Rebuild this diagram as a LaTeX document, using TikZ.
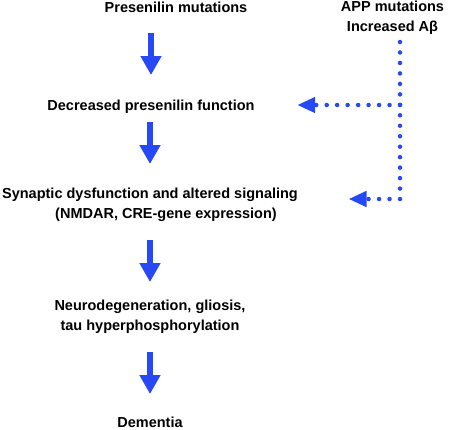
\documentclass[tikz,border=0pt]{standalone}
\usepackage{fontspec}
\setmainfont{Liberation Sans}
\usepackage{tikz}
\usetikzlibrary{arrows.meta}
\definecolor{arrowblue}{RGB}{38,72,245}

\begin{document}
\begin{tikzpicture}[x=1pt, y=-1pt,
    stage/.style={font=\bfseries\fontsize{14.5}{20}\selectfont, align=center, inner sep=0pt, anchor=base},
    fatarrow/.style={arrowblue, line width=6.5pt, -{Triangle[length=19pt, width=20pt]}},
    dotline/.style={arrowblue, line width=4.5pt, line cap=round, dash pattern=on 0pt off 10.47pt, -{Triangle[length=18pt, width=15pt]}}]
            \useasboundingbox (0,0) rectangle (450,429);
            % Nodes (base = last line)
            \node[stage] (mut) at (176,12) {Presenilin mutations};
            \node[stage] (decr) at (151,110) {Decreased presenilin function};
            \node[stage] (syn) at (150,218.5) {Synaptic dysfunction and altered signaling\\\hspace*{32pt}(NMDAR, CRE-gene expression)};
            \node[stage] (neuro) at (150,330.5) {Neurodegeneration, gliosis,\\tau hyperphosphorylation};
            \node[stage] (dem) at (150,427) {Dementia};
            \node[stage] (app) at (392.5,31.5) {APP mutations\\Increased Aβ};
            \coordinate (top) at (400,42);
            \coordinate (j1) at (400,105);
            \coordinate (j2) at (400,199);

            % Edges
            \draw[fatarrow, shorten <=21pt, shorten >=35pt] (mut.base -| decr.base) -- (decr.base);
            \draw[fatarrow, shorten <=12pt, shorten >=54.5pt] (decr.base -| syn.base) -- (syn.base);
            \draw[fatarrow, shorten <=21.5pt, shorten >=48.5pt] (syn.base) -- (neuro.base);
            \draw[fatarrow, shorten <=21.5pt, shorten >=33pt] (neuro.base) -- (dem.base);
            \draw[dotline, -] (top) -- (j2);
            \draw[dotline, shorten >=42.5pt] (j1) -- (decr.east |- j1);
            \draw[dotline, shorten >=50.5pt] (j2) -- (syn.east |- j2);
        \end{tikzpicture}
\end{document}
